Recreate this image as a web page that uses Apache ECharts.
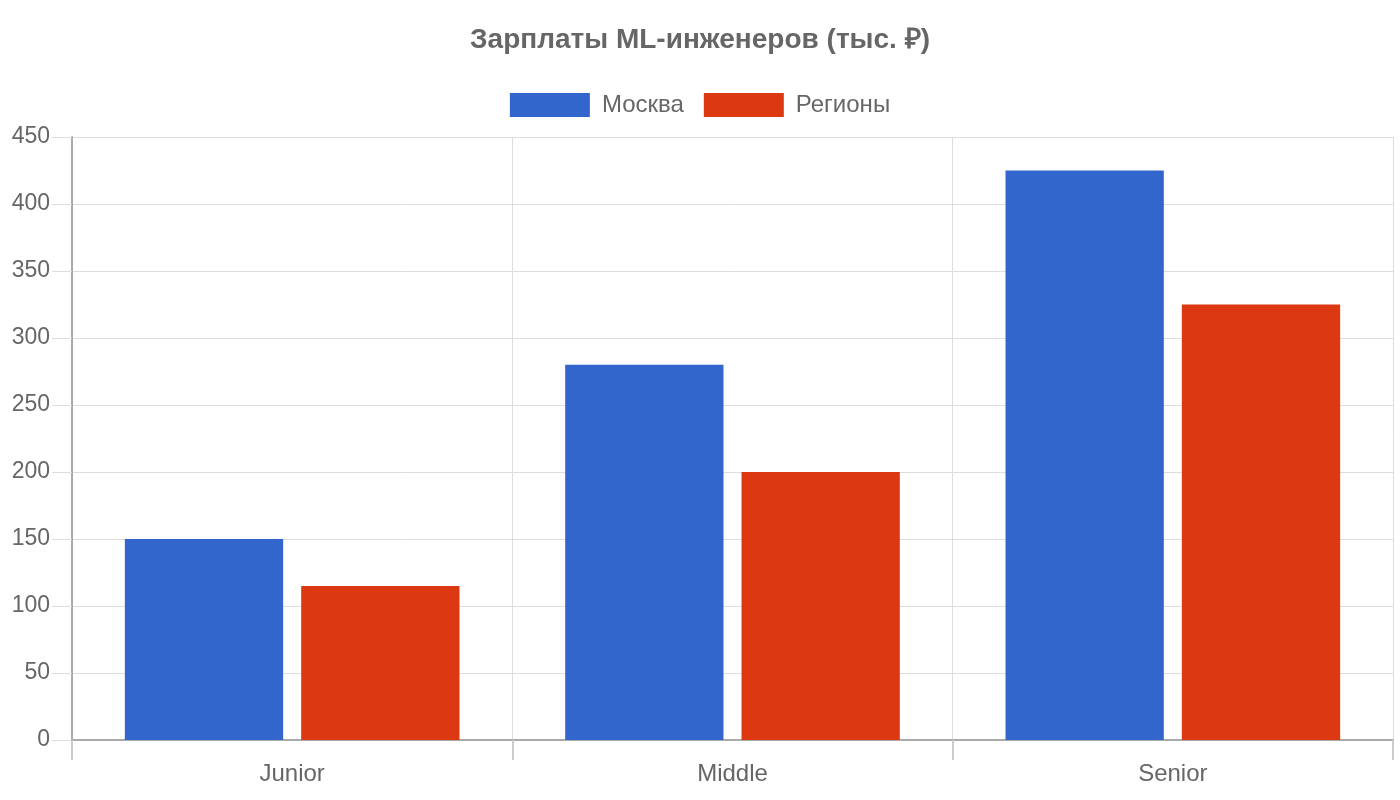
<!DOCTYPE html>
<html>
<head>
<meta charset="utf-8">
<script src="https://cdn.jsdelivr.net/npm/echarts@6/dist/echarts.min.js"></script>
<style>
  html, body { margin: 0; padding: 0; background: #fff; }
  #chart { width: 1400px; height: 800px; }
</style>
</head>
<body>
<div id="chart"></div>
<script>
const categories = ["Junior", "Middle", "Senior"];
const moscow = [150, 280, 425];
const regions = [115, 200, 325];
const seriesNames = ["Москва", "Регионы"];
const colors = ["#3366cc", "#dc3912"];

const FONT = "Liberation Sans, Arial, sans-serif";
const el = echarts.init(document.getElementById("chart"));

const options = {
  backgroundColor: "#ffffff",
  animation: false,
  color: colors,
  title: {
    text: "Зарплаты ML-инженеров (тыс. ₽)",
    left: "center",
    top: 21,
    textStyle: {
      fontFamily: FONT,
      fontSize: 28,
      fontWeight: "bold",
      color: "#666666",
    },
  },
  legend: {
    top: 88,
    left: "center",
    icon: "rect",
    itemWidth: 80,
    itemHeight: 24,
    itemGap: 20,
    textStyle: {
      fontFamily: FONT,
      fontSize: 24,
      color: "#666666",
      padding: [0, 0, 0, 7],
    },
    data: seriesNames,
  },
  grid: {
    left: 72,
    right: 7,
    top: 137,
    bottom: 60,
    containLabel: false,
  },
  xAxis: {
    type: "category",
    data: categories,
    boundaryGap: true,
    axisLine: { show: true, lineStyle: { color: "#aaaaaa", width: 2 } },
    axisTick: { show: true, length: 20, lineStyle: { color: "#cccccc", width: 2 } },
    splitLine: { show: true, lineStyle: { color: "#dddddd", width: 1 } },
    axisLabel: {
      margin: 22,
      fontFamily: FONT,
      fontSize: 24,
      color: "#666666",
    },
  },
  yAxis: {
    type: "value",
    min: 0,
    max: 450,
    interval: 50,
    axisLine: { show: true, lineStyle: { color: "#aaaaaa", width: 2 } },
    axisTick: { show: true, length: 20, lineStyle: { color: "#dddddd" } },
    splitLine: { show: true, lineStyle: { color: "#dddddd", width: 1 } },
    axisLabel: {
      margin: 22,
      fontFamily: FONT,
      fontSize: 23,
      color: "#666666",
      padding: [8, 0, 0, 0],
    },
  },
  series: [
    {
      name: seriesNames[0],
      type: "bar",
      data: moscow,
      barCategoryGap: "24%",
      barGap: "11.4%",
      itemStyle: { color: colors[0] },
    },
    {
      name: seriesNames[1],
      type: "bar",
      data: regions,
      barCategoryGap: "24%",
      barGap: "11.4%",
      itemStyle: { color: colors[1] },
    },
  ],
};

el.setOption(options);
</script>
</body>
</html>
